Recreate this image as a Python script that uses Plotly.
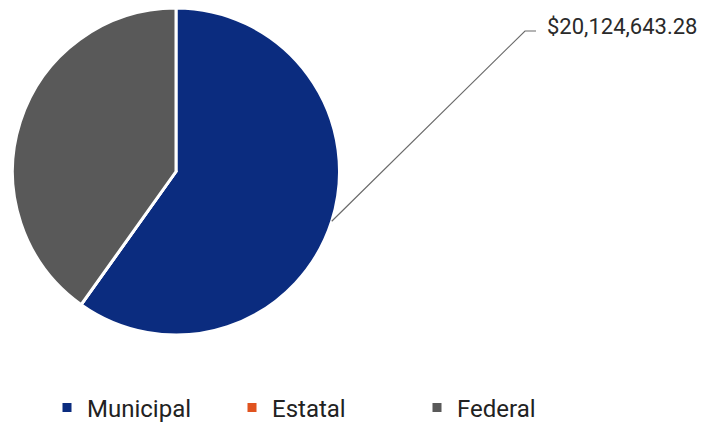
import math
import plotly.graph_objects as go

labels = ["Municipal", "Estatal", "Federal"]
values = [20124643.28, 0.0, 13500000.0]
colors = ["#0b2c7f", "#e0531f", "#595959"]
label_text = "$20,124,643.28"

W, H = 693, 425
OFF = 8  # page body margin of the browser


def px(x):
    return (x - OFF) / W


def py(y):
    return 1 - (y - OFF) / H


# pie geometry in reference pixels
left_px, right_px, top_px, bottom_px = 12, 340, 8, 335

fig = go.Figure(go.Pie(
    labels=labels,
    values=values,
    marker=dict(colors=colors, line=dict(color="white", width=3)),
    sort=False,
    direction="clockwise",
    rotation=0,
    textinfo="none",
    hoverinfo="label+value",
    domain=dict(x=[px(left_px), px(right_px)], y=[py(bottom_px), py(top_px)]),
))

# leader line from the middle of the Municipal slice
cx = (left_px + right_px) / 2
cy = (top_px + bottom_px) / 2
r = min(right_px - left_px, bottom_px - top_px) / 2
total = sum(values)
mid_angle = (values[0] / 2) / total * 2 * math.pi
sx = cx + r * math.sin(mid_angle)
sy = cy - r * math.cos(mid_angle)
ex, ey = 525, 31
hx = 536

fig.add_shape(type="path", xref="paper", yref="paper",
              path=f"M {px(sx)} {py(sy)} L {px(ex)} {py(ey)} L {px(hx)} {py(ey)}",
              line=dict(color="#6b6b6b", width=1.2))
fig.add_annotation(x=px(545), y=py(26), xref="paper", yref="paper",
                   text=label_text, showarrow=False, xanchor="left", yanchor="middle",
                   font=dict(family="Roboto", size=22, color="#2a2a2a"))

fig.update_layout(
    width=W, height=H,
    margin=dict(l=0, r=0, t=0, b=0, autoexpand=False),
    paper_bgcolor="white",
    plot_bgcolor="white",
    showlegend=True,
    legend=dict(orientation="h", x=px(47), y=py(408), xanchor="left", yanchor="middle",
                font=dict(family="Roboto", size=24, color="#222222"),
                entrywidth=140, entrywidthmode="pixels", traceorder="normal",
                itemclick=False, itemdoubleclick=False),
)

fig.write_html("out.html")
